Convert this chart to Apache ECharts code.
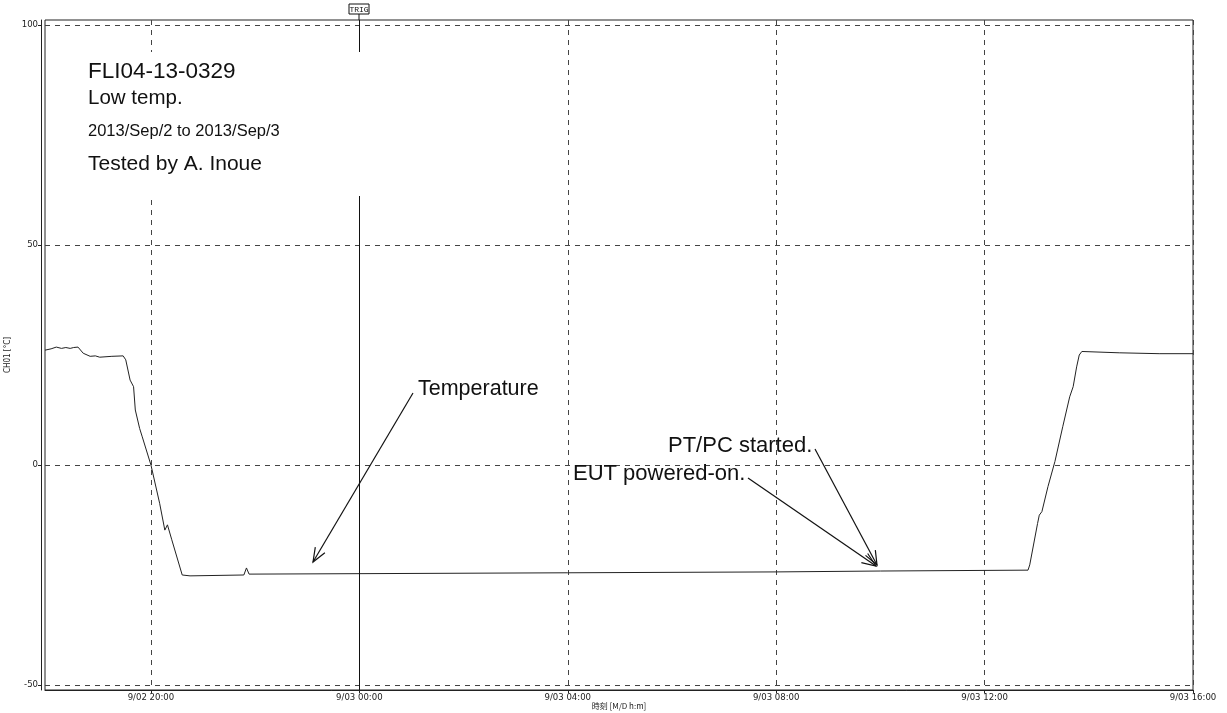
<!DOCTYPE html>
<html><head><meta charset="utf-8">
<script src="https://cdn.jsdelivr.net/npm/echarts@6/dist/echarts.min.js"></script>
<style>html,body{margin:0;padding:0;background:#fff}#c{width:1227px;height:713px}</style>
</head><body><div id="c"></div>
<script>
// ---- data ----
const times = ['2013-09-02T17:58','2013-09-02T18:05','2013-09-02T18:11','2013-09-02T18:17','2013-09-02T18:22','2013-09-02T18:27','2013-09-02T18:31','2013-09-02T18:36','2013-09-02T18:42','2013-09-02T18:50','2013-09-02T18:56','2013-09-02T19:01','2013-09-02T19:15','2013-09-02T19:28','2013-09-02T19:31','2013-09-02T19:36','2013-09-02T19:40','2013-09-02T19:42','2013-09-02T19:47','2013-09-02T19:50','2013-09-02T20:00','2013-09-02T20:10','2013-09-02T20:16','2013-09-02T20:19','2013-09-02T20:24','2013-09-02T20:36','2013-09-02T20:45','2013-09-02T21:47','2013-09-02T21:50','2013-09-02T21:53','2013-09-03T00:00','2013-09-03T04:00','2013-09-03T08:00','2013-09-03T10:00','2013-09-03T12:50','2013-09-03T12:52','2013-09-03T13:01','2013-09-03T13:03','2013-09-03T13:06','2013-09-03T13:13','2013-09-03T13:21','2013-09-03T13:30','2013-09-03T13:38','2013-09-03T13:42','2013-09-03T13:46','2013-09-03T13:49','2013-09-03T13:52','2013-09-03T14:35','2013-09-03T15:21','2013-09-03T16:00'];
const temps = [26.1,26.4,26.8,26.5,26.7,26.5,26.7,26.8,25.4,24.7,24.8,24.5,24.7,24.8,23.9,19.3,17.8,12.5,8.3,6.4,0.0,-8.7,-14.8,-13.6,-17.0,-25.0,-25.2,-25.0,-23.4,-24.8,-24.7,-24.5,-24.3,-24.1,-23.9,-22.7,-13.3,-11.4,-10.6,-4.9,0.8,8.7,15.5,17.8,22.3,25.0,25.8,25.5,25.3,25.3];
const xTickTimes = ['2013-09-02T20:00','2013-09-03T00:00','2013-09-03T04:00','2013-09-03T08:00','2013-09-03T12:00','2013-09-03T16:00'];
const yTicks = [-50, 0, 50, 100];
const xStart = '2013-09-02T17:58';
const xEnd = '2013-09-03T16:00';
const trigTime = '2013-09-03T00:00';
const notes = ['FLI04-13-0329', 'Low temp.', '2013/Sep/2 to 2013/Sep/3', 'Tested by A. Inoue'];
const yName = 'CH01 [°C]';
const xName = '時刻 [M/D h:m]';

// ---- helpers: x is expressed as hours since 2013-09-02 00:00 ----
const BASE = new Date('2013-09-02T00:00').getTime();
const h = s => (new Date(s).getTime() - BASE) / 3600000;
const pad = n => (n < 10 ? '0' : '') + n;
const fmt = v => { const d = new Date(BASE + Math.round(v * 60) * 60000); return (d.getMonth() + 1) + '/' + pad(d.getDate()) + ' ' + pad(d.getHours()) + ':' + pad(d.getMinutes()); };
const xTickVals = xTickTimes.map(h);
const seriesData = times.map((s, i) => [h(s), temps[i]]);

function arrow(x1, y1, x2, y2) {
  const dx = x2 - x1, dy = y2 - y1, L = Math.hypot(dx, dy);
  const ux = dx / L, uy = dy / L, hl = 15, a = 0.38;
  const rot = (ang) => [x2 - hl * (ux * Math.cos(ang) - uy * Math.sin(ang)), y2 - hl * (ux * Math.sin(ang) + uy * Math.cos(ang))];
  const p1 = rot(a), p2 = rot(-a);
  const st = { stroke: '#111', lineWidth: 1.2, fill: null };
  return [
    { type: 'polyline', z: 120, shape: { points: [[x1, y1], [x2, y2]] }, style: st },
    { type: 'polyline', z: 120, shape: { points: [p1, [x2, y2], p2] }, style: st }
  ];
}

const txt = (x, y, s, fs) => ({ type: 'text', z: 121, x: x, y: y, style: { text: s, fontFamily: 'Liberation Sans, Arial', fontSize: fs, fill: '#111', verticalAlign: 'middle', align: 'left' } });

const chart = echarts.init(document.getElementById('c'), null, { renderer: 'canvas' });
const labelFont = { fontFamily: 'Liberation Sans Narrow, DejaVu Sans Condensed', fontSize: 9.5, color: '#222' };
chart.setOption({
  animation: false,
  backgroundColor: '#fff',
  grid: { left: 45, right: 34, top: 20, bottom: 23, containLabel: false, outerBoundsMode: 'none', show: true, borderColor: '#222', borderWidth: 1, backgroundColor: 'transparent' },
  xAxis: {
    type: 'value', min: h(xStart), max: h(xEnd),
    name: xName, nameLocation: 'middle', nameGap: 12, nameMoveOverlap: false,
    nameTextStyle: { fontFamily: 'Noto Sans CJK JP', fontSize: 8, color: '#222' },
    axisLine: { show: true, onZero: false, lineStyle: { color: '#222', width: 1 } },
    axisTick: { show: true, customValues: xTickVals, length: 3, lineStyle: { color: '#222' } },
    axisLabel: Object.assign({ customValues: xTickVals, formatter: fmt, margin: 3, hideOverlap: false, showMinLabel: true, showMaxLabel: true }, labelFont),
    splitLine: { show: true, customValues: xTickVals, lineStyle: { type: [5, 5], color: '#444', width: 1 } }
  },
  yAxis: {
    type: 'value', min: -51.14, max: 101.14, offset: 4,
    name: yName, nameLocation: 'middle', nameGap: 29, nameMoveOverlap: false,
    nameTextStyle: { fontFamily: 'Liberation Sans Narrow, DejaVu Sans Condensed', fontSize: 8, color: '#222' },
    axisLine: { show: true, onZero: false, lineStyle: { color: '#222', width: 1 } },
    axisTick: { show: true, customValues: yTicks, length: 3, lineStyle: { color: '#222' } },
    axisLabel: Object.assign({ customValues: yTicks, margin: 3 }, labelFont),
    splitLine: { show: true, customValues: yTicks, lineStyle: { type: [5, 5], color: '#444', width: 1 } }
  },
  series: [{
    type: 'line', data: seriesData, showSymbol: false, symbol: 'none',
    lineStyle: { color: '#222', width: 1 },
    markLine: { silent: true, symbol: 'none', label: { show: false }, lineStyle: { type: 'solid', color: '#111', width: 1 }, data: [{ xAxis: h(trigTime) }] }
  }],
  graphic: [
    { type: 'rect', z: 110, shape: { x: 78, y: 52, width: 294, height: 144 }, style: { fill: '#fff', stroke: null } },
    txt(88, 72, notes[0], 22.5), txt(88, 98, notes[1], 20.5), txt(88, 131, notes[2], 16.5), txt(88, 164, notes[3], 21),
    txt(418, 389, 'Temperature', 21.5), txt(668, 446, 'PT/PC started.', 22), txt(573, 474, 'EUT powered-on.', 22),
    ...arrow(413, 393, 313, 562),
    ...arrow(815, 449, 877, 565),
    ...arrow(748, 478, 876, 566),
    { type: 'rect', z: 120, shape: { x: 349, y: 4, width: 20, height: 10 }, style: { fill: '#fff', stroke: '#111', lineWidth: 1 } },
    { type: 'text', z: 121, x: 359, y: 9.5, style: { text: 'TRIG', fontFamily: 'Liberation Mono', fontSize: 8, fill: '#111', align: 'center', verticalAlign: 'middle' } },
    { type: 'line', z: 120, shape: { x1: 359, y1: 14, x2: 359, y2: 20 }, style: { stroke: '#111', lineWidth: 1 } }
  ]
});
</script></body></html>
